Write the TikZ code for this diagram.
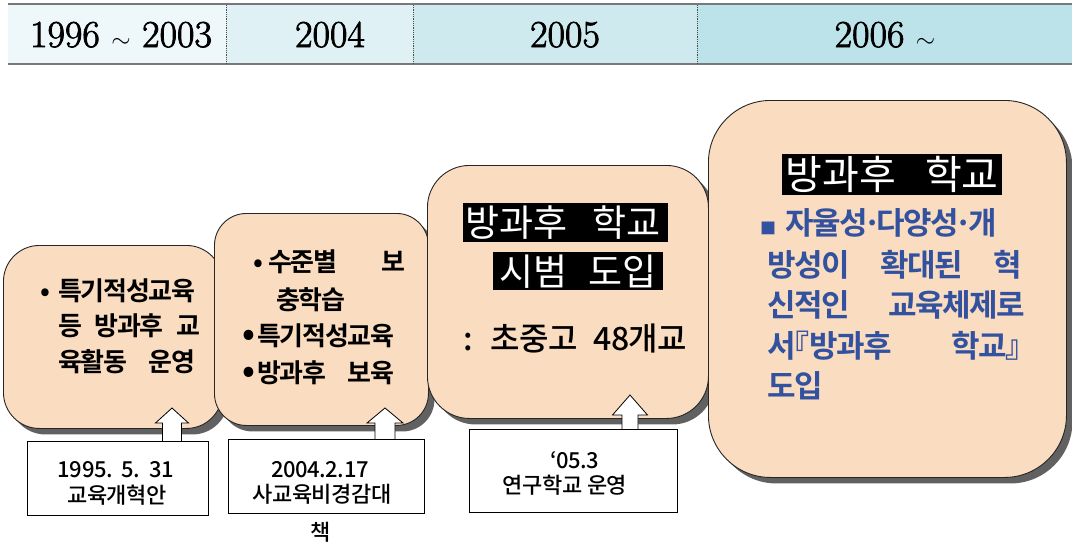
\documentclass[tikz,border=0pt]{standalone}
\usepackage{fontspec}
\usetikzlibrary{shadows,calc}
\newfontfamily\kr{Noto Sans CJK KR}
\newfontfamily\krb{Noto Sans CJK KR Bold}[LetterSpace=-5]
\newfontfamily\krm{Noto Sans CJK KR Medium}[LetterSpace=-2]
\newfontfamily\hdrf{Latin Modern Roman}[FakeBold=2]
\definecolor{peach}{RGB}{250,220,192}
\definecolor{hcA}{RGB}{238,247,249}
\definecolor{hcB}{RGB}{223,241,245}
\definecolor{hcC}{RGB}{206,234,239}
\definecolor{hcD}{RGB}{189,227,234}
\definecolor{hline}{RGB}{120,120,120}
\definecolor{kblue}{RGB}{50,82,160}
\begin{document}
\begin{tikzpicture}[x=1pt,y=-1pt,
  rbox/.style={draw=black!85, line width=0.9pt, fill=peach, rounded corners=#1,
    anchor=north west, inner sep=0pt,
    drop shadow={shadow xshift=6pt, shadow yshift=-6pt, fill=black!62, opacity=1}},
  callout/.style={draw=black, line width=0.8pt, fill=white, anchor=north west, inner sep=0pt},
  harrow/.style={draw=black, line width=0.8pt, fill=white},
  hl/.style={fill=black, text=white, inner sep=0pt, anchor=north west},
  hdr/.style={anchor=base, inner sep=0pt, font=\hdrf\fontsize{38}{40}\selectfont},
  bt/.style={anchor=base west, inner sep=0pt, font=\krb\fontsize{26}{26}\selectfont},
  blt/.style={anchor=base west, inner sep=0pt, text=kblue, font=\krb\fontsize{31}{31}\selectfont},
  ct/.style={anchor=base, inner sep=0pt, font=\krm\fontsize{22}{22}\selectfont},
]
\useasboundingbox (0,0) rectangle (1072,547);
\fill[white] (0,0) rectangle (1072,547);

% header
\fill[hcA] (8,4) rectangle (226,64);
\fill[hcB] (226,4) rectangle (413,64);
\fill[hcC] (413,4) rectangle (697,64);
\fill[hcD] (697,4) rectangle (1072,64);
\draw[hline, line width=2pt] (8,4) -- (1072,4);
\draw[hline, line width=2pt] (8,64) -- (1072,64);
\foreach \xx in {226,413,697} \draw[black!70, densely dotted, line width=0.8pt] (\xx,5) -- (\xx,63);
\node[hdr] (h1) at (121,47) {1996 $\sim$ 2003};
\node[hdr] (h2) at (330,47) {2004};
\node[hdr] (h3) at (565,47) {2005};
\node[hdr] (h4) at (885,47) {2006 $\sim$};

% rounded boxes
\node[rbox=36pt, minimum width=219pt, minimum height=183pt] (b1) at (3,245) {};
\node[rbox=32pt, minimum width=214pt, minimum height=212pt] (b2) at (214,213) {};
\node[rbox=42pt, minimum width=281pt, minimum height=253pt] (b3) at (427,165) {};
\node[rbox=62pt, minimum width=358pt, minimum height=377pt] (b4) at (708,100) {};

% box 1 text
\node[bt] (t11) at (40,300) {\makebox[18pt][l]{•}특기적성교육};
\node[bt] (t12) at (58,335) {\makebox[142pt][s]{등 방과후 교}};
\node[bt] (t13) at (58,371) {\makebox[137pt][s]{육활동 운영}};

% box 2 text
\node[bt] (t21) at (253,271) {\makebox[15pt][l]{•}\makebox[137pt][s]{수준별 보}};
\node[bt] (t22) at (276,309) {충학습};
\node[bt] (t23) at (242,345) {\makebox[15pt][l]{\fontsize{34}{34}\selectfont •}특기적성교육};
\node[bt] (t24) at (242,382) {\makebox[15pt][l]{\fontsize{34}{34}\selectfont •}\makebox[137pt][s]{방과후 보육}};

% box 3 text
\node[hl, minimum width=205pt, minimum height=39pt, font=\kr\fontsize{37}{37}\selectfont] (t31) at (463,203)
  {\makebox[205pt][l]{\hspace{2pt}\makebox[195pt][s]{방과후 학교}}};
\node[hl, minimum width=170pt, minimum height=38pt, font=\kr\fontsize{37}{37}\selectfont] (t32) at (493,252)
  {\makebox[157pt][s]{시범 도입}};
\node[anchor=base west, inner sep=0pt, font=\krm\fontsize{32}{32}\selectfont] (t33) at (463,350)
  {:\hspace{18pt}초중고\hspace{16pt}48개교};

% box 4 text
\node[hl, minimum width=220pt, minimum height=41pt, font=\kr\fontsize{40}{40}\selectfont] (t41) at (782,154)
  {\makebox[213pt][s]{방과후 학교}};
\node[blt] (t42) at (760,234) {\makebox[25pt][l]{\fontsize{16}{16}\selectfont ■}자율성\makebox[9pt]{·}다양성\makebox[9pt]{·}개};
\node[blt] (t43) at (767,276) {\makebox[255pt][s]{방성이 확대된 혁}};
\node[blt] (t44) at (767,316) {\makebox[258pt][s]{신적인 교육체제로}};
\node[blt] (t45) at (767,357) {서\makebox[14pt][r]{『}\makebox[227pt][s]{방과후 학교』}};
\node[blt] (t46) at (767,397) {도입};

% arrows
\coordinate (a1) at (172,441);
\coordinate (a2) at (385,439);
\coordinate (a3) at (630,429);
\draw[harrow] (a1) ++(-9.5,0) -- ++(0,-18) -- ++(-7,0) -- ++(16.5,-15) -- ++(16.5,15) -- ++(-7,0) -- ++(0,18);
\draw[harrow] (a2) ++(-10,0) -- ++(0,-16) -- ++(-8,0) -- ++(18,-15) -- ++(18,15) -- ++(-8,0) -- ++(0,16);
\draw[harrow] (a3) ++(-8,0) -- ++(0,-14) -- ++(-9.5,0) -- ++(17.5,-20) -- ++(17.5,20) -- ++(-9.5,0) -- ++(0,14);

% callouts
\node[callout, minimum width=181pt, minimum height=74pt] (c1) at (27,441) {};
\node[callout, minimum width=196pt, minimum height=74pt] (c2) at (228,439) {};
\node[callout, minimum width=208pt, minimum height=83pt] (c3) at (469,429) {};

\node[ct] (c1a) at (116,477) {1995.\hspace{9pt}5.\hspace{9pt}31};
\node[ct] (c1b) at (117,503) {교육개혁안};
\node[ct] (c2a) at (320,477) {2004.2.17};
\node[ct] (c2b) at (322,502) {사교육비경감대};
\node[ct] (c2c) at (321,540) {책};
\node[ct] (c3a) at (575,468) {‘05.3};
\node[ct] (c3b) at (565,493) {연구학교 운영};
\end{tikzpicture}
\end{document}
